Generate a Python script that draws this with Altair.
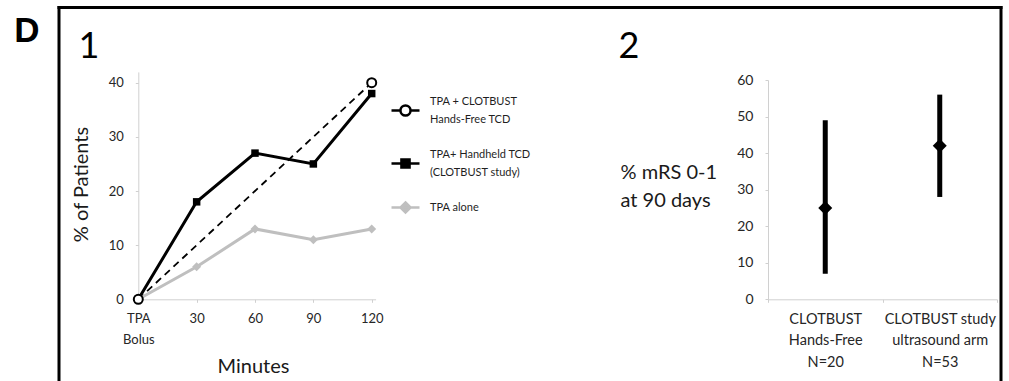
import altair as alt
import pandas as pd

W, H = 1009, 381

# ---------------- data ----------------
minutes = [0, 30, 60, 90, 120]
hands_free = [0, None, None, None, 40]
handheld = [0, 18, 27, 25, 38]
tpa_alone = [0, 6, 13, 11, 13]

series_keys = ["hf", "hh", "alone"]
series_labels = [["TPA + CLOTBUST", "Hands-Free TCD"],
                 ["TPA+ Handheld TCD", "(CLOTBUST study)"],
                 ["TPA alone"]]
first_tick_label = ["TPA", "Bolus"]
y1_ticks = [0, 10, 20, 30, 40]

groups = ["CLOTBUST|Hands-Free|N=20", "CLOTBUST study|ultrasound arm|N=53"]
mrs_est = [25, 42]
mrs_low = [7, 28]
mrs_high = [49, 56]
y2_ticks = [0, 10, 20, 30, 40, 50, 60]

panel_letter = ["D"]
panel_numbers = ["1", "2"]
left_y_title = "% of Patients"
left_x_title = "Minutes"
right_y_title = ["% mRS 0-1", "at 90 days"]

# ---------------- tables ----------------
rows = []
for key, vals in zip(series_keys, [hands_free, handheld, tpa_alone]):
    for m, v in zip(minutes, vals):
        rows.append({"series": key, "minute": m, "pct": v})
df1 = pd.DataFrame(rows)
df2 = pd.DataFrame({"group": groups, "est": mrs_est, "low": mrs_low, "high": mrs_high})
df_leg = pd.DataFrame({"series": series_keys})


def js_list(lst):
    return "[" + ",".join("'" + s + "'" for s in lst) + "]"


legend_expr = (
    f"datum.value == 'hf' ? {js_list(series_labels[0])} : "
    f"datum.value == 'hh' ? {js_list(series_labels[1])} : {js_list(series_labels[2])}"
)
first_label_expr = f"datum.value == 0 ? {js_list(first_tick_label)} : datum.label"

# ---------------- scales ----------------
x1 = alt.Scale(domain=[0, 122], range=[138.3, 375.6], nice=False, zero=False)
y1 = alt.Scale(domain=[0, 42], range=[299.3, 71.9], nice=False, zero=True)
x2 = alt.Scale(domain=groups, range=[768, 997], paddingInner=0, paddingOuter=0)
y2 = alt.Scale(domain=[0, 60], range=[299.3, 80], nice=False, zero=True)

GRID = "#d0d0d0"
TXT = "#262626"
ax_common = dict(domainColor=GRID, tickColor=GRID, domainWidth=1, tickWidth=1,
                 tickSize=3, labelFont="Lato", labelColor=TXT, grid=False,
                 labelFlush=False, labelOverlap=False, titleFont="Lato",
                 titleColor="#1a1a1a", titleFontWeight="normal")

left_x_axis = alt.Axis(orient="bottom", offset=-(H - 299.3), values=minutes,
                       labelExpr=first_label_expr, labelFontSize=13, labelPadding=10,
                       labelLineHeight=21, title=left_x_title, titleFontSize=20,
                       titleX=253, titleY=67, titleAlign="center", titleBaseline="middle",
                       **ax_common)
left_y_axis = alt.Axis(orient="left", offset=-138.3, values=y1_ticks, labelFontSize=13,
                       labelPadding=12, title=left_y_title, titleFontSize=20,
                       titleX=-56.5, titleY=184, titleAngle=270, titleAlign="center",
                       titleBaseline="middle", **ax_common)
right_x_axis = alt.Axis(orient="bottom", offset=-(H - 299.3),
                        labelExpr="split(datum.label, '|')", labelFontSize=14.5,
                        labelPadding=10, labelLineHeight=21.5, tickBand="extent",
                        title=None, labelAngle=0, **ax_common)
right_y_axis = alt.Axis(orient="left", offset=-768, values=y2_ticks, labelFontSize=14,
                        labelPadding=12, title=right_y_title, titleFontSize=20,
                        titleLineHeight=28, titleAngle=0, titleAlign="left",
                        titleBaseline="middle", titleX=-148, titleY=172, **ax_common)

GRAY = "#bfbfbf"
base1 = alt.Chart(df1)


def sel(key):
    return base1.transform_filter(alt.datum.series == key).transform_filter(
        "isValid(datum.pct)")


enc_x_none = dict(scale=x1, axis=None)
enc_y_none = dict(scale=y1, axis=None)

line_hf = sel("hf").mark_line(color="black", strokeWidth=1.8, strokeDash=[7, 5]).encode(
    x=alt.X("minute:Q", scale=x1, axis=left_x_axis),
    y=alt.Y("pct:Q", scale=y1, axis=left_y_axis))
line_alone = sel("alone").mark_line(color=GRAY, strokeWidth=3).encode(
    x=alt.X("minute:Q", **enc_x_none), y=alt.Y("pct:Q", **enc_y_none))
line_hh = sel("hh").mark_line(color="black", strokeWidth=3).encode(
    x=alt.X("minute:Q", **enc_x_none), y=alt.Y("pct:Q", **enc_y_none))
pts_alone = sel("alone").mark_point(shape="diamond", filled=True, color=GRAY, size=81,
                                    opacity=1).encode(
    x=alt.X("minute:Q", **enc_x_none), y=alt.Y("pct:Q", **enc_y_none))
pts_hh = sel("hh").mark_square(color="black", size=56, opacity=1).encode(
    x=alt.X("minute:Q", **enc_x_none), y=alt.Y("pct:Q", **enc_y_none))
pts_hf = sel("hf").mark_point(shape="circle", filled=True, fill="white", stroke="black",
                              strokeWidth=2, size=81, opacity=1).encode(
    x=alt.X("minute:Q", **enc_x_none), y=alt.Y("pct:Q", **enc_y_none))

# legend (symbols: line + marker, custom unit paths; two-line entries shifted
# down half a line so the symbol sits between the two label lines)
d = 0.64
path_hf = (f"M-1,{d}L-0.36,{d}M0.36,{d}L1,{d}M0.36,{d}A0.36,0.36,0,1,1,-0.36,{d}"
           f"A0.36,0.36,0,1,1,0.36,{d}Z")
path_hh = (f"M-1,{d}L1,{d}M-0.29,{d-0.29:.2f}L0.29,{d-0.29:.2f}L0.29,{d+0.29:.2f}"
           f"L-0.29,{d+0.29:.2f}Z")
path_alone = "M-1,0L1,0M0,-0.36L0.36,0L0,0.36L-0.36,0Z"

lg = alt.Legend(orient="none", legendX=390, legendY=86, title=None, padding=0,
                symbolSize=784, symbolStrokeWidth=2.5, labelFont="Lato",
                labelFontSize=11, labelColor="#1f1f1f", labelOffset=9, rowPadding=14,
                labelExpr=legend_expr, labelLimit=300)
legend_layer = alt.Chart(df_leg).transform_filter("false").mark_point(
    filled=True, opacity=1).encode(
    shape=alt.Shape("series:N", scale=alt.Scale(domain=series_keys,
                                                range=[path_hf, path_hh, path_alone]),
                    legend=lg),
    fill=alt.Fill("series:N", scale=alt.Scale(domain=series_keys,
                                              range=["#ffffff", "#000000", GRAY]),
                  legend=lg),
    stroke=alt.Stroke("series:N", scale=alt.Scale(domain=series_keys,
                                                  range=["#000000", "#000000", GRAY]),
                      legend=lg),
)

# right panel
base2 = alt.Chart(df2)
bars = base2.mark_rule(color="black", strokeWidth=5).encode(
    x=alt.X("group:N", scale=x2, axis=right_x_axis, sort=groups),
    y=alt.Y("low:Q", scale=y2, axis=right_y_axis),
    y2="high:Q")
diamonds = base2.mark_point(shape="diamond", filled=True, color="black", size=196,
                            opacity=1).encode(
    x=alt.X("group:N", scale=x2, axis=None, sort=groups),
    y=alt.Y("est:Q", scale=y2, axis=None))

# frame and panel labels
one = pd.DataFrame({"a": [0]})
frame_left = alt.Chart(one).mark_rule(color="black", strokeWidth=3).encode(
    x=alt.value(59), y=alt.value(6), y2=alt.value(H))
frame_top = alt.Chart(one).mark_rule(color="black", strokeWidth=3).encode(
    x=alt.value(57.5), x2=alt.value(1002.5), y=alt.value(7.5))
frame_right = alt.Chart(one).mark_rule(color="black", strokeWidth=3).encode(
    x=alt.value(1001), y=alt.value(6), y2=alt.value(H))

txt_d = alt.Chart(pd.DataFrame({"t": panel_letter})).mark_text(
    font="Liberation Sans", fontWeight="bold", fontSize=35, baseline="alphabetic",
    align="center", color="black").encode(text="t:N", x=alt.value(27), y=alt.value(42))
txt_1 = alt.Chart(pd.DataFrame({"t": panel_numbers[:1]})).mark_text(
    font="Lato", fontSize=36, baseline="alphabetic", align="center",
    color="black").encode(text="t:N", x=alt.value(89), y=alt.value(58))
txt_2 = alt.Chart(pd.DataFrame({"t": panel_numbers[1:]})).mark_text(
    font="Lato", fontSize=36, baseline="alphabetic", align="center",
    color="black").encode(text="t:N", x=alt.value(629), y=alt.value(58))

chart = alt.layer(
    frame_left, frame_top, frame_right,
    line_hf, line_alone, line_hh, pts_alone, pts_hh, pts_hf,
    legend_layer, bars, diamonds, txt_d, txt_1, txt_2,
).resolve_scale(x="independent", y="independent").properties(
    width=W, height=H, padding=0, background="white",
    autosize=alt.AutoSizeParams(type="none"),
).configure(style={"guide-label": {"lineHeight": 18}}).configure_view(stroke=None)

chart.save("out.html", embed_options={"renderer": "svg", "actions": False})
